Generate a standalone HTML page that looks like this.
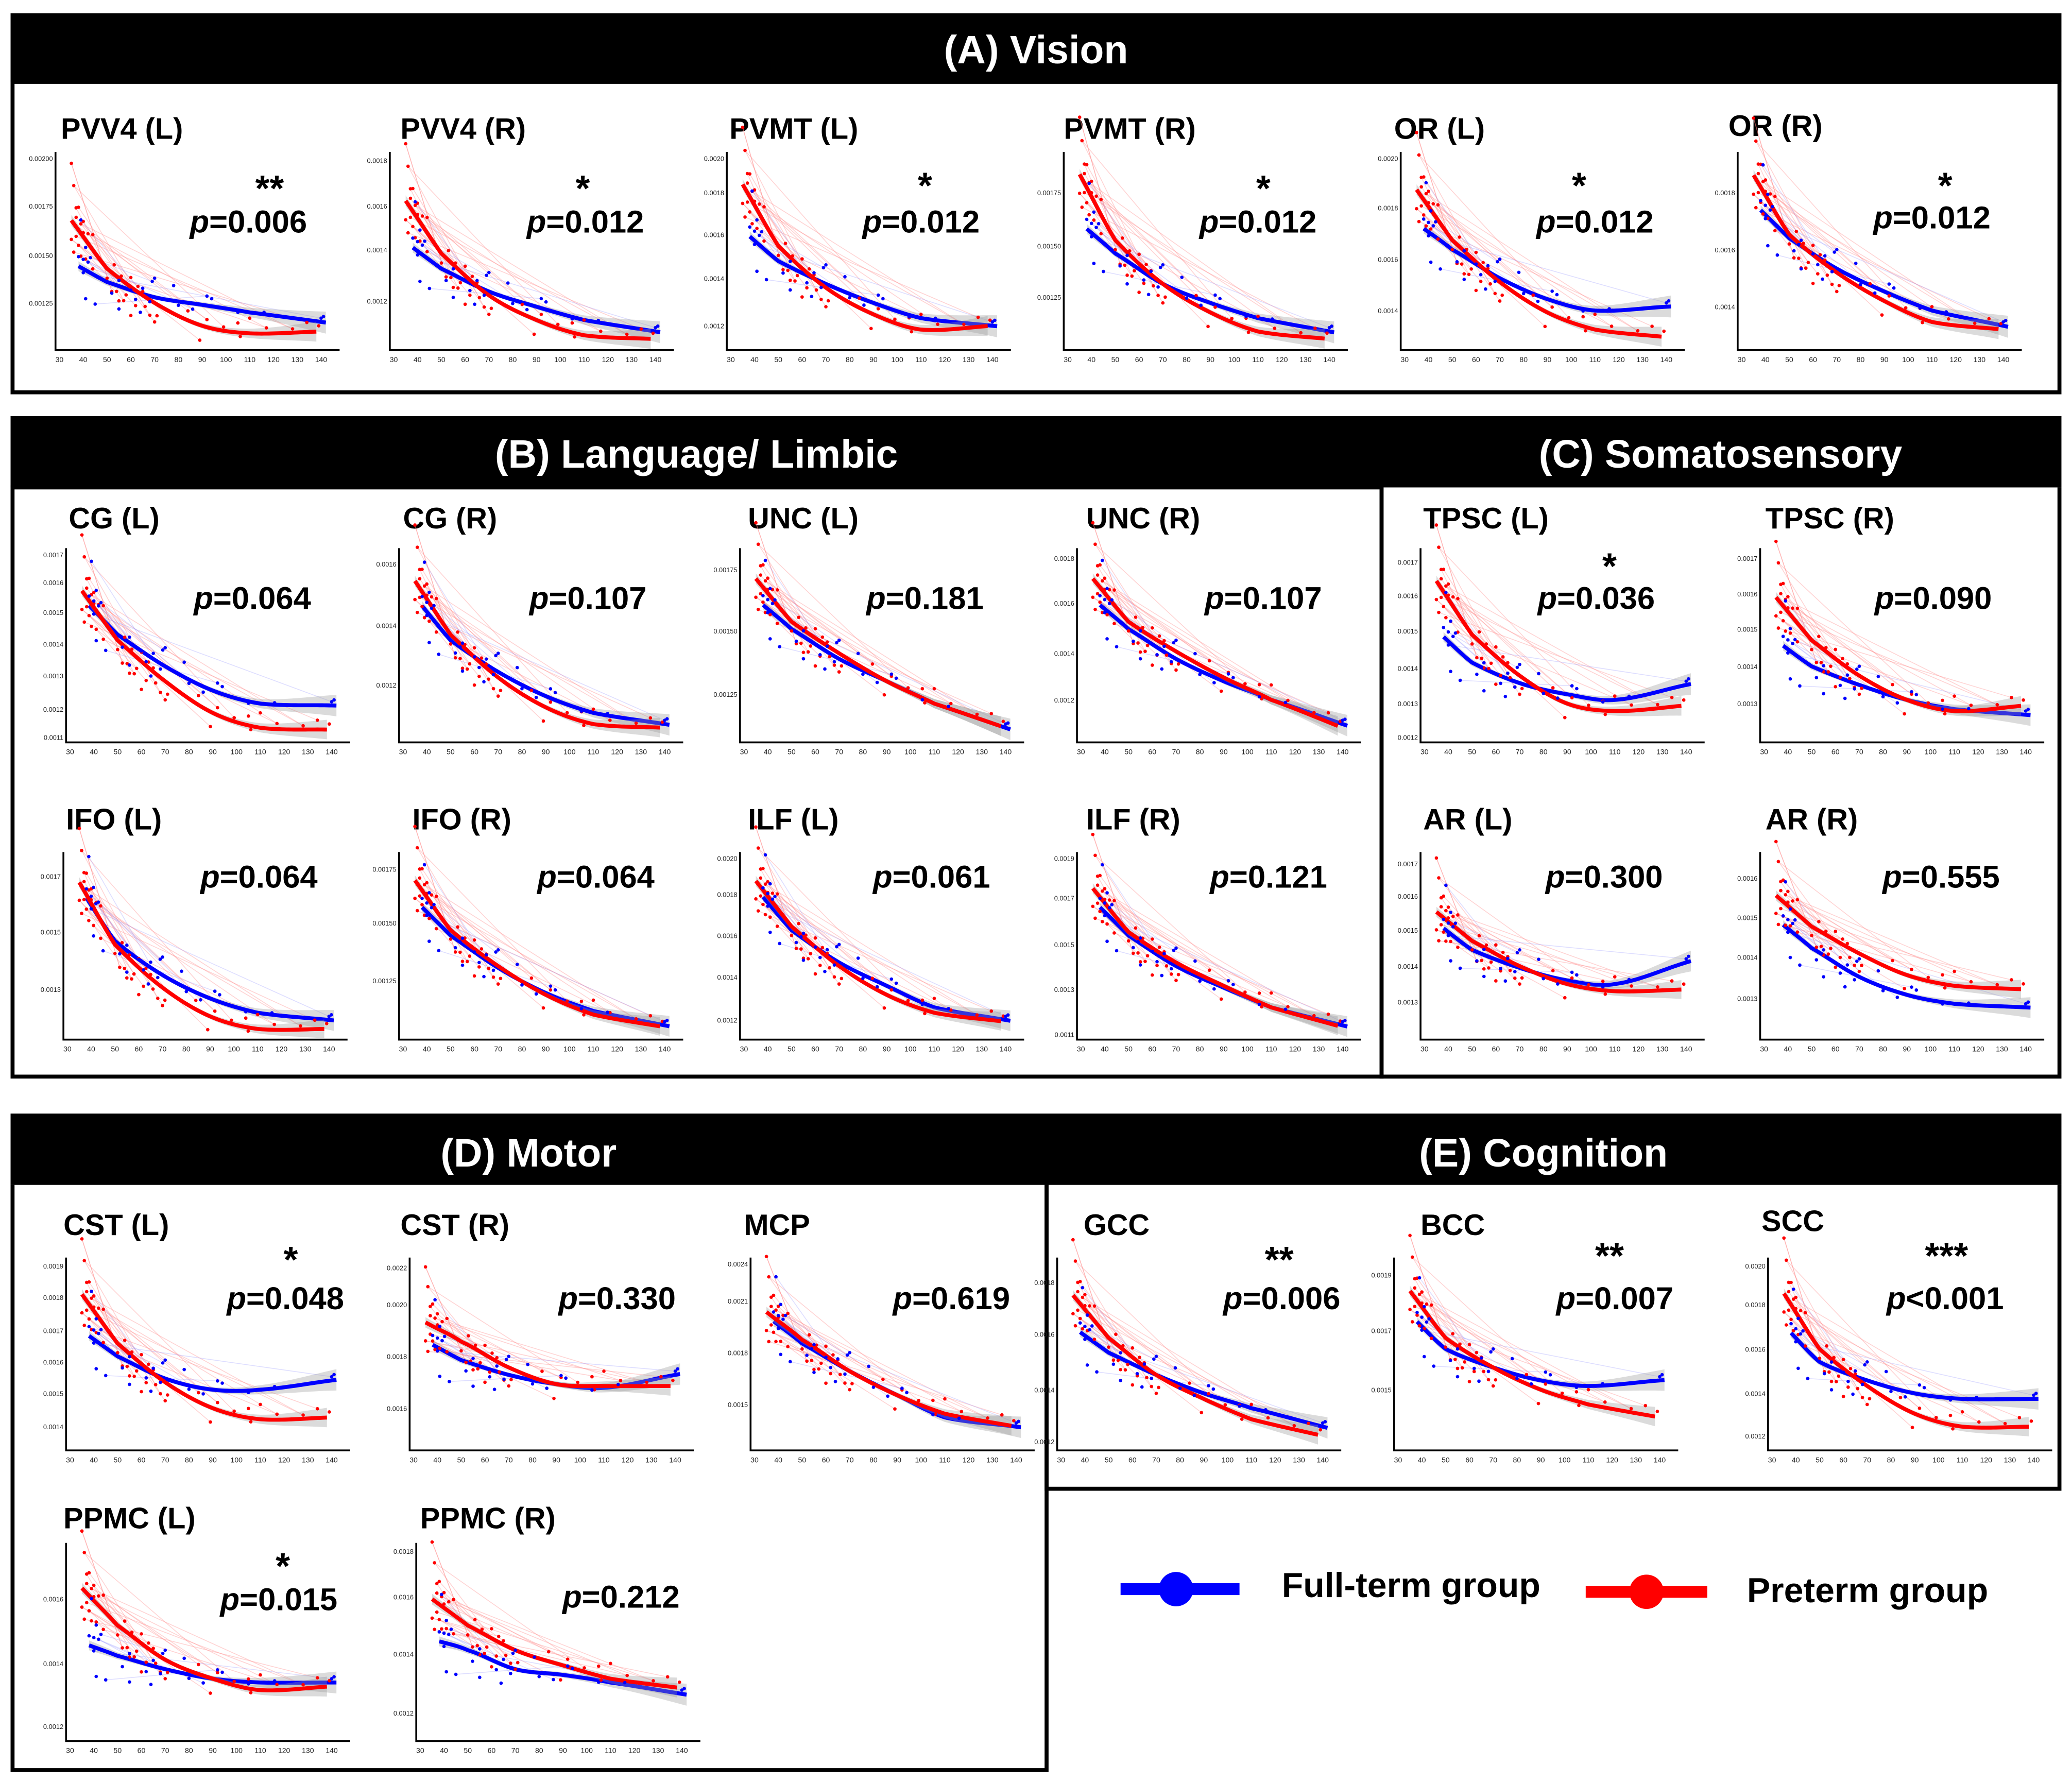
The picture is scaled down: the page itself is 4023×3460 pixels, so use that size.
<!DOCTYPE html>
<html><head><meta charset="utf-8">
<style>
html,body{margin:0;padding:0;background:#fff;}
svg{display:block;}
text{font-family:"Liberation Sans",Arial,sans-serif;}
</style></head>
<body>
<svg id="fig" xmlns="http://www.w3.org/2000/svg" width="4023" height="3460" viewBox="0 0 1568 1349" preserveAspectRatio="none">
  <rect x="0" y="0" width="1568" height="1349" fill="#fff"/>
  <rect x="8" y="10" width="1552" height="52" fill="#000"/>
  <text x="784" y="48" font-size="30" font-weight="bold" fill="#fff" text-anchor="middle">(A) Vision</text>
  <rect x="9.5" y="62" width="1549" height="235" fill="none" stroke="#000" stroke-width="3"/>
  <rect x="8" y="315" width="1552" height="54" fill="#000"/>
  <text x="527" y="354" font-size="30" font-weight="bold" fill="#fff" text-anchor="middle">(B) Language/ Limbic</text>
  <text x="1302" y="354" font-size="30" font-weight="bold" fill="#fff" text-anchor="middle">(C) Somatosensory</text>
  <rect x="9.5" y="369" width="1036" height="446" fill="none" stroke="#000" stroke-width="3"/>
  <path d="M1045.5 369 V815 H1558.5 V369" fill="none" stroke="#000" stroke-width="3"/>
  <rect x="8" y="843" width="1552" height="54" fill="#000"/>
  <text x="400" y="883" font-size="30" font-weight="bold" fill="#fff" text-anchor="middle">(D) Motor</text>
  <text x="1168" y="883" font-size="30" font-weight="bold" fill="#fff" text-anchor="middle">(E) Cognition</text>
  <path d="M9.5 897 V1340 H792 V897" fill="none" stroke="#000" stroke-width="3"/>
  <path d="M792 897 V1127 H1558.5 V897" fill="none" stroke="#000" stroke-width="3"/>
  <g>
    <g>
      <line x1="848" y1="1203" x2="938" y2="1203" stroke="#0000ff" stroke-width="9"/>
      <circle cx="890" cy="1203" r="13" fill="#0000ff"/>
      <text x="970" y="1209" font-size="26.5" font-weight="bold" fill="#000">Full-term group</text>
    </g>
    <g>
      <line x1="1200" y1="1205" x2="1292" y2="1205" stroke="#ff0000" stroke-width="9"/>
      <circle cx="1246" cy="1205" r="13" fill="#ff0000"/>
      <text x="1322" y="1213" font-size="26.5" font-weight="bold" fill="#000">Preterm group</text>
    </g>
  </g>
  <g id="panels"></g>
</svg>
<script>
// ---- data ----
const panelNames = ["PVV4 (L)","PVV4 (R)","PVMT (L)","PVMT (R)","OR (L)","OR (R)",
  "CG (L)","CG (R)","UNC (L)","UNC (R)","TPSC (L)","TPSC (R)",
  "IFO (L)","IFO (R)","ILF (L)","ILF (R)","AR (L)","AR (R)",
  "CST (L)","CST (R)","MCP","GCC","BCC","SCC","PPMC (L)","PPMC (R)"];
const panelP = ["=0.006","=0.012","=0.012","=0.012","=0.012","=0.012",
  "=0.064","=0.107","=0.181","=0.107","=0.036","=0.090",
  "=0.064","=0.064","=0.061","=0.121","=0.300","=0.555",
  "=0.048","=0.330","=0.619","=0.006","=0.007","<0.001","=0.015","=0.212"];
const panelStars = ["**","*","*","*","*","*","","","","","*","","","","","","","","*","","","**","**","***","*",""];
const curveAges = [37,50,70,90,110,140];
const xTicks = [30,40,50,60,70,80,90,100,110,120,130,140];
const blueCurves = [
 [.42,.33,.25,.21,.17,.12],[.52,.40,.28,.20,.13,.07],[.58,.44,.32,.22,.14,.10],[.62,.48,.32,.22,.14,.07],[.62,.50,.35,.24,.18,.20],[.72,.56,.40,.28,.18,.10],
 [.72,.55,.38,.25,.18,.17],[.72,.52,.35,.22,.13,.07],[.72,.58,.42,.30,.18,.05],[.72,.58,.42,.30,.20,.07],[.55,.40,.29,.23,.20,.28],[.50,.38,.28,.20,.15,.12],
 [.78,.52,.33,.20,.12,.08],[.72,.55,.37,.23,.13,.05],[.78,.58,.40,.27,.15,.08],[.72,.55,.38,.26,.15,.05],[.60,.47,.37,.30,.28,.40],[.62,.48,.32,.22,.17,.15],
 [.60,.48,.36,.30,.30,.35],[.55,.46,.38,.33,.31,.38],[.68,.55,.40,.27,.15,.10],[.62,.50,.38,.28,.20,.10],[.68,.52,.42,.35,.32,.35],[.62,.45,.35,.28,.25,.25],
 [.48,.42,.35,.30,.28,.28],[.50,.45,.35,.32,.28,.22]];
const redCurves = [
 [.62,.40,.22,.10,.06,.07],[.72,.48,.26,.13,.05,.03],[.80,.52,.30,.16,.08,.10],[.85,.55,.32,.17,.07,.03],[.78,.55,.33,.17,.08,.04],[.85,.58,.38,.23,.12,.08],
 [.75,.52,.30,.13,.05,.04],[.80,.55,.32,.16,.07,.05],[.82,.62,.45,.30,.18,.05],[.82,.62,.46,.32,.20,.05],[.80,.55,.33,.18,.14,.17],[.72,.52,.33,.20,.14,.17],
 [.80,.50,.26,.10,.03,.03],[.82,.58,.38,.22,.11,.04],[.82,.60,.38,.22,.12,.07],[.78,.57,.40,.27,.15,.04],[.66,.52,.38,.28,.24,.25],[.75,.60,.45,.33,.27,.25],
 [.78,.55,.34,.20,.14,.15],[.65,.56,.42,.33,.32,.32],[.70,.57,.40,.27,.17,.10],[.78,.58,.38,.25,.14,.05],[.80,.58,.42,.30,.22,.15],[.78,.52,.32,.17,.10,.10],
 [.75,.58,.40,.30,.24,.26],[.70,.58,.45,.37,.30,.25]];
const yTickLabels = [
 ["0.00125","0.00150","0.00175","0.00200"],["0.0012","0.0014","0.0016","0.0018"],["0.0012","0.0014","0.0016","0.0018","0.0020"],["0.00125","0.00150","0.00175"],["0.0014","0.0016","0.0018","0.0020"],["0.0014","0.0016","0.0018"],
 ["0.0011","0.0012","0.0013","0.0014","0.0015","0.0016","0.0017"],["0.0012","0.0014","0.0016"],["0.00125","0.00150","0.00175"],["0.0012","0.0014","0.0016","0.0018"],["0.0012","0.0013","0.0014","0.0015","0.0016","0.0017"],["0.0013","0.0014","0.0015","0.0016","0.0017"],
 ["0.0013","0.0015","0.0017"],["0.00125","0.00150","0.00175"],["0.0012","0.0014","0.0016","0.0018","0.0020"],["0.0011","0.0013","0.0015","0.0017","0.0019"],["0.0013","0.0014","0.0015","0.0016","0.0017"],["0.0013","0.0014","0.0015","0.0016"],
 ["0.0014","0.0015","0.0016","0.0017","0.0018","0.0019"],["0.0016","0.0018","0.0020","0.0022"],["0.0015","0.0018","0.0021","0.0024"],["0.0012","0.0014","0.0016","0.0018"],["0.0015","0.0017","0.0019"],["0.0012","0.0014","0.0016","0.0018","0.0020"],
 ["0.0012","0.0014","0.0016"],["0.0012","0.0014","0.0016","0.0018"]];
const yTickValues = [
 [.22,.47,.73,.98],[.23,.50,.73,.97],[.10,.35,.58,.80,.98],[.25,.52,.80],[.18,.45,.72,.98],[.20,.50,.80],
 [.00,.15,.33,.50,.67,.83,.98],[.28,.60,.93],[.23,.57,.90],[.20,.45,.72,.96],[.00,.18,.37,.57,.76,.94],[.18,.38,.58,.77,.96],
 [.25,.57,.88],[.30,.62,.92],[.08,.32,.55,.78,.98],[.00,.25,.50,.76,.98],[.18,.38,.58,.77,.95],[.20,.43,.65,.87],
 [.10,.28,.45,.62,.80,.97],[.20,.48,.76,.96],[.22,.50,.78,.98],[.02,.30,.60,.88],[.30,.62,.92],[.05,.28,.52,.76,.97],
 [.05,.38,.72],[.12,.43,.73,.97]];
const redAges = [35,35,36,36,36,37,37,37,38,38,38,39,39,40,40,41,42,44,44,50,52,53,54,55,56,57,58,59,60,60,62,63,65,66,68,69,70,71,80,84,89,92,99,105,106,110,117,128,134,139];
const redResid = [.30,-.10,.20,.00,-.15,.10,.05,-.05,.00,.12,-.08,.05,-.12,.02,.08,-.10,.05,.08,-.10,-.05,-.10,.05,-.08,-.12,.02,-.10,-.06,.00,-.15,.05,-.08,.03,.02,-.05,-.08,.00,-.10,-.06,.00,.05,-.08,.04,.02,.05,-.02,.08,.03,.02,.05,.03];
const blueAges = [38,39,40,40,41,41,42,43,45,52,54,55,55,60,62,64,65,68,69,70,78,80,86,92,94,105,116,140,141];
const blueResid = [.05,.25,.05,-.02,.12,-.15,.05,.08,-.15,-.05,.00,-.12,.03,.00,-.04,-.10,.03,-.03,.08,.10,.08,-.02,-.03,.05,.04,-.01,.01,.02,.03];

// ---- layout: axisLeft, axisTop, axisBottom, titleX, titleY, pX, pY, starX, starY
const layout = [
 [42,115,265,46,105,188,176,204,152],[295,115,265,303,105,443,176,441,152],[550,115,265,552,105,697,176,700,150],[805,115,265,805,105,952,176,956,152],[1060,115,265,1055,105,1207,176,1195,150],[1315,115,265,1308,103,1462,173,1472,150],
 [50,415,562,52,400,191,461],[302,415,562,305,400,445,461],[560,415,562,566,400,700,461],[815,415,562,822,400,956,461],[1075,415,562,1077,400,1208,461,1218,438],[1332,415,562,1336,400,1463,461],
 [48,645,787,50,628,196,672],[302,645,787,312,628,451,672],[560,645,787,566,628,705,672],[815,645,787,822,628,960,672],[1075,645,787,1077,628,1214,672],[1332,645,787,1336,628,1469,672],
 [50,952,1098,48,935,216,991,220,963],[310,952,1098,303,935,467,991],[568,952,1098,563,935,720,991],[800,952,1098,820,935,970,991,968,963],[1055,952,1098,1075,935,1222,991,1218,960],[1338,952,1098,1333,932,1472,991,1473,960],
 [50,1168,1318,48,1157,211,1219,214,1195],[315,1168,1318,318,1157,470,1217]];

const NS = "http://www.w3.org/2000/svg";
const root = document.getElementById("panels");
function mk(tag, attrs, parent){ const e=document.createElementNS(NS,tag); for(const k in attrs) e.setAttribute(k,attrs[k]); parent.appendChild(e); return e; }
function interp(vals, age){
  const n=vals.length;
  const get=j=> j<0 ? 2*vals[0]-vals[1] : (j>=n ? 2*vals[n-1]-vals[n-2] : vals[j]);
  if(age<=curveAges[0]){ const s=(vals[1]-vals[0])/(curveAges[1]-curveAges[0]); return vals[0]+s*(age-curveAges[0]); }
  for(let i=0;i<n-1;i++){
    if(age<=curveAges[i+1]){
      const t=(age-curveAges[i])/(curveAges[i+1]-curveAges[i]);
      const p0=get(i-1),p1=vals[i],p2=vals[i+1],p3=get(i+2);
      const t2=t*t,t3=t2*t;
      return 0.5*((2*p1)+(-p0+p2)*t+(2*p0-5*p1+4*p2-p3)*t2+(-p0+3*p1-3*p2+p3)*t3);
    }
  }
  const s=(vals[n-1]-vals[n-2])/(curveAges[n-1]-curveAges[n-2]);
  return vals[n-1]+s*(age-curveAges[n-1]);
}

panelNames.forEach((name,i)=>{
  const L = layout[i];
  const left=L[0], top=L[1], bottom=L[2], right=left+215;
  const xs = a => left + 3 + (a-30)/110*198;
  const ys = v => bottom - 4 - v*(bottom-top-6);
  const g = mk("g",{},root);
  
  

  const title = mk("text",{x:L[3],y:L[4],"font-size":22.5,"font-weight":"bold",fill:"#000"},g);
  title.textContent = name;
  
  

  const traj = mk("g",{},g);
  
  
  redAges.forEach((a,j)=>{
    if(a<46){
      [7,11].forEach(m=>{
        const k=(j*m+20)%redAges.length;
        if(redAges[k]>50){
          const ln = mk("line",{x1:xs(a),y1:ys(interp(redCurves[i],a)+redResid[j]),x2:xs(redAges[k]),y2:ys(interp(redCurves[i],redAges[k])+redResid[k]),stroke:"#ff8080","stroke-width":0.6,opacity:0.35},traj);
          
          
        }
      });
    }
  });
  blueAges.forEach((a,j)=>{
    if(a<46){
      const k=(j*5+12)%blueAges.length;
      if(blueAges[k]>50){
        const ln = mk("line",{x1:xs(a),y1:ys(interp(blueCurves[i],a)+blueResid[j]),x2:xs(blueAges[k]),y2:ys(interp(blueCurves[i],blueAges[k])+blueResid[k]),stroke:"#9090ff","stroke-width":0.6,opacity:0.3},traj);
        
        
      }
    }
  });

  [["blue",blueCurves[i],"#0000ff",38,142],["red",redCurves[i],"#ff0000",35,138]].forEach(s=>{
    const up=[],dn=[],line=[];
    for(let a=s[3];a<=s[4];a+=1){
      const v=interp(s[1],a);
      const w=0.012+0.05*Math.pow((a-75)/70,2);
      up.push(xs(a)+","+ys(v+w)); dn.unshift(xs(a)+","+ys(v-w)); line.push(xs(a)+","+ys(v));
    }
    const band = mk("polygon",{points:up.concat(dn).join(" "),fill:"#999",opacity:0.35},g);
    
    
    const pl = mk("polyline",{points:line.join(" "),fill:"none",stroke:s[2],"stroke-width":3},g);
    
    
  });

  redAges.forEach((a,j)=>{
    const c = mk("circle",{cx:xs(a),cy:ys(interp(redCurves[i],a)+redResid[j]),r:1.3,fill:"#ff0000"},g);
    
    
  });
  blueAges.forEach((a,j)=>{
    const c = mk("circle",{cx:xs(a),cy:ys(interp(blueCurves[i],a)+blueResid[j]),r:1.3,fill:"#0000ff"},g);
    
    
  });

  const ax = mk("path",{d:`M${left} ${top} V${bottom} H${right}`,fill:"none",stroke:"#000","stroke-width":1.4},g);
  
  
  xTicks.forEach(t=>{
    const tx = mk("text",{x:xs(t),y:bottom+9,"font-size":5.5,"text-anchor":"middle",fill:"#222"},g);
    tx.textContent = t;
    
    
  });
  yTickLabels[i].forEach((lab,k)=>{
    const ty = mk("text",{x:left-2,y:ys(yTickValues[i][k])+2,"font-size":5,"text-anchor":"end",fill:"#222"},g);
    ty.textContent = lab;
    
    
  });

  const pt = mk("text",{x:L[5],y:L[6],"font-size":24,"font-weight":"bold","text-anchor":"middle",fill:"#000"},g);
  const pi = mk("tspan",{"font-style":"italic"},pt); pi.textContent="p";
  const pv = mk("tspan",{},pt); pv.textContent=panelP[i];
  
  
  if(panelStars[i]){
    const st = mk("text",{x:L[7],y:L[8],"font-size":28,"font-weight":"bold","text-anchor":"middle",fill:"#000"},g);
    st.textContent = panelStars[i];
    
    
  }
});
</script>
</body></html>
